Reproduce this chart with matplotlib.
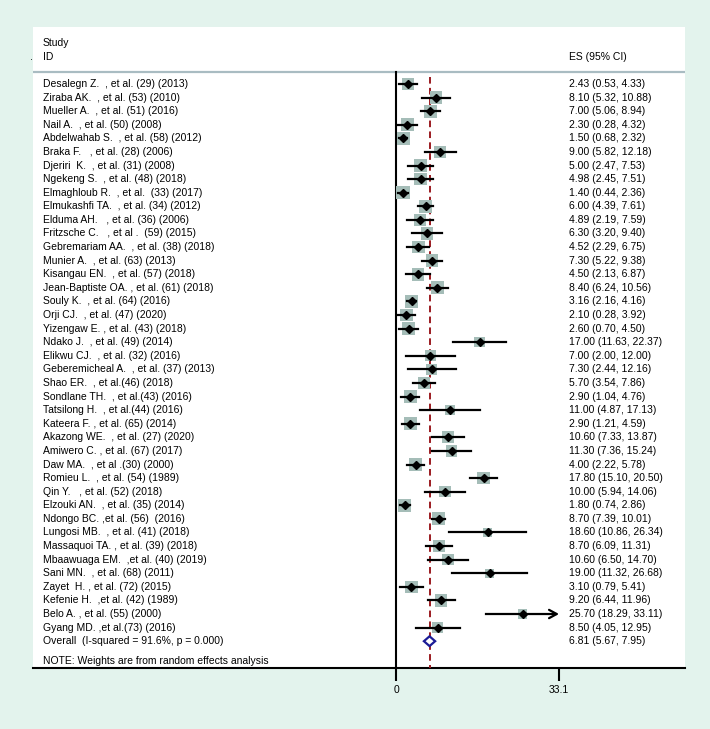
import numpy as np
import matplotlib
matplotlib.use("Agg")
import matplotlib.pyplot as plt
from matplotlib.patches import Rectangle, Polygon

plt.rcParams['font.family'] = ['Liberation Sans', 'DejaVu Sans']

studies = [
    "Desalegn Z.  , et al. (29) (2013)",
    "Ziraba AK.  , et al. (53) (2010)",
    "Mueller A.  , et al. (51) (2016)",
    "Nail A.  , et al. (50) (2008)",
    "Abdelwahab S.  , et al. (58) (2012)",
    "Braka F.   , et al. (28) (2006)",
    "Djeriri  K.  , et al. (31) (2008)",
    "Ngekeng S.  , et al. (48) (2018)",
    "Elmaghloub R.  , et al.  (33) (2017)",
    "Elmukashfi TA.  , et al. (34) (2012)",
    "Elduma AH.   , et al. (36) (2006)",
    "Fritzsche C.   , et al .  (59) (2015)",
    "Gebremariam AA.  , et al. (38) (2018)",
    "Munier A.  , et al. (63) (2013)",
    "Kisangau EN.  , et al. (57) (2018)",
    "Jean-Baptiste OA. , et al. (61) (2018)",
    "Souly K.  , et al. (64) (2016)",
    "Orji CJ.  , et al. (47) (2020)",
    "Yizengaw E. , et al. (43) (2018)",
    "Ndako J.  , et al. (49) (2014)",
    "Elikwu CJ.  , et al. (32) (2016)",
    "Geberemicheal A.  , et al. (37) (2013)",
    "Shao ER.  , et al.(46) (2018)",
    "Sondlane TH.  , et al.(43) (2016)",
    "Tatsilong H.  , et al.(44) (2016)",
    "Kateera F. , et al. (65) (2014)",
    "Akazong WE.  , et al. (27) (2020)",
    "Amiwero C. , et al. (67) (2017)",
    "Daw MA.  , et al .(30) (2000)",
    "Romieu L.  , et al. (54) (1989)",
    "Qin Y.   , et al. (52) (2018)",
    "Elzouki AN.  , et al. (35) (2014)",
    "Ndongo BC. ,et al. (56)  (2016)",
    "Lungosi MB.  , et al. (41) (2018)",
    "Massaquoi TA. , et al. (39) (2018)",
    "Mbaawuaga EM.  ,et al. (40) (2019)",
    "Sani MN.  , et al. (68) (2011)",
    "Zayet  H. , et al. (72) (2015)",
    "Kefenie H.  ,et al. (42) (1989)",
    "Belo A. , et al. (55) (2000)",
    "Gyang MD. ,et al.(73) (2016)",
]
es = [2.43, 8.10, 7.00, 2.30, 1.50, 9.00, 5.00, 4.98, 1.40, 6.00, 4.89, 6.30, 4.52, 7.30,
      4.50, 8.40, 3.16, 2.10, 2.60, 17.00, 7.00, 7.30, 5.70, 2.90, 11.00, 2.90, 10.60,
      11.30, 4.00, 17.80, 10.00, 1.80, 8.70, 18.60, 8.70, 10.60, 19.00, 3.10, 9.20, 25.70, 8.50]
lo = [0.53, 5.32, 5.06, 0.28, 0.68, 5.82, 2.47, 2.45, 0.44, 4.39, 2.19, 3.20, 2.29, 5.22,
      2.13, 6.24, 2.16, 0.28, 0.70, 11.63, 2.00, 2.44, 3.54, 1.04, 4.87, 1.21, 7.33,
      7.36, 2.22, 15.10, 5.94, 0.74, 7.39, 10.86, 6.09, 6.50, 11.32, 0.79, 6.44, 18.29, 4.05]
hi = [4.33, 10.88, 8.94, 4.32, 2.32, 12.18, 7.53, 7.51, 2.36, 7.61, 7.59, 9.40, 6.75, 9.38,
      6.87, 10.56, 4.16, 3.92, 4.50, 22.37, 12.00, 12.16, 7.86, 4.76, 17.13, 4.59, 13.87,
      15.24, 5.78, 20.50, 14.06, 2.86, 10.01, 26.34, 11.31, 14.70, 26.68, 5.41, 11.96, 33.11, 12.95]
# relative weights
weights = [74, 69, 74, 74, 79, 66, 71, 71, 79, 76, 69, 67, 73, 73, 72, 73, 78, 75, 74, 50,
           53, 54, 73, 75, 45, 76, 65, 61, 75, 69, 60, 78, 77, 36, 70, 59, 36, 72, 69, 37, 57]
overall_label = "Overall  (I-squared = 91.6%, p = 0.000)"
overall = [6.81, 5.67, 7.95]
axis_max = 33.1
xticks = [0, 33.1]
xticklabels = ["0", "33.1"]

W, H = 710, 729
fig = plt.figure(figsize=(W / 100, H / 100), dpi=100, facecolor="#e3f3ed")

# panel in pixels
pl, pr, pt, pb = 33, 685, 27, 668
ax = fig.add_axes([pl / W, 1 - pb / H, (pr - pl) / W, (pb - pt) / H])
ax.set_facecolor("white")

x0px, x1px = 396, 559
ppu = (x1px - x0px) / axis_max
ax.set_xlim((pl - x0px) / ppu, (pr - x0px) / ppu)
row0, rowh = 84.0, 13.59
ax.set_ylim((pb - row0) / rowh, (pt - row0) / rowh)

for s in ["top", "right", "left"]:
    ax.spines[s].set_visible(False)
ax.spines["bottom"].set_linewidth(1.5)
ax.spines["bottom"].set_color("black")
ax.set_yticks([])
ax.set_xticks(xticks)
ax.set_xticklabels(xticklabels, fontsize=7.5)
ax.tick_params(axis="x", length=9, width=1.5, pad=3.5, colors="black")

n = len(studies)
hdr_y = (72 - row0) / rowh
ybot = (pb - row0) / rowh

# header line
ax.plot([(pl - x0px) / ppu, (pr - x0px) / ppu], [hdr_y, hdr_y], color="#a9bcc2", lw=1.6,
        solid_capstyle="butt", clip_on=False, zorder=2)
# vertical line at 0
ax.plot([0, 0], [hdr_y, ybot], color="black", lw=1.5, zorder=3)
# dashed overall line
ax.plot([overall[0], overall[0]], [(77 - row0) / rowh, ybot], color="#9b1b20", lw=1.4,
        dashes=(3.4, 2.2), zorder=3)

fs = 7.5
trans = ax.get_yaxis_transform()  # x axes, y data
lab_x = (43 - pl) / (pr - pl)
es_x = (569 - pl) / (pr - pl)

for i in range(n):
    side = 12.8 * np.sqrt(weights[i] / 74.0)
    wdat = side / ppu
    hdat = side / rowh
    ax.add_patch(Rectangle((es[i] - wdat / 2, i - hdat / 2), wdat, hdat,
                           facecolor="#a5bdb8", edgecolor="none", zorder=4))
    if hi[i] > axis_max:
        ax.plot([lo[i], es[i]], [i, i], color="black", lw=1.6, zorder=5)
        ax.annotate("", xy=(axis_max, i), xytext=(es[i], i),
                    arrowprops=dict(arrowstyle="->,head_length=0.55,head_width=0.3",
                                    color="black", lw=1.6, shrinkA=0, shrinkB=0), zorder=5)
    else:
        ax.plot([lo[i], hi[i]], [i, i], color="black", lw=1.6, zorder=5)
    ax.plot(es[i], i, marker="D", color="black", markersize=4.5, zorder=6)
    ax.text(lab_x, i, studies[i], transform=trans, fontsize=fs, va="center", ha="left")
    ax.text(es_x, i, f"{es[i]:.2f} ({lo[i]:.2f}, {hi[i]:.2f})", transform=trans,
            fontsize=fs, va="center", ha="left")

# overall diamond
yo = n
dh = 0.36
diamond = Polygon([[overall[1], yo], [overall[0], yo - dh], [overall[2], yo], [overall[0], yo + dh]],
                  closed=True, facecolor="white", edgecolor="#1c1c96", lw=1.6, zorder=6)
ax.add_patch(diamond)
ax.text(lab_x, yo, overall_label, transform=trans, fontsize=fs, va="center", ha="left")
ax.text(es_x, yo, f"{overall[0]:.2f} ({overall[1]:.2f}, {overall[2]:.2f})", transform=trans,
        fontsize=fs, va="center", ha="left")

# headers
ax.text(lab_x, (43 - row0) / rowh, "Study", transform=trans, fontsize=fs, va="center", ha="left")
ax.text(lab_x, (57 - row0) / rowh, "ID", transform=trans, fontsize=fs, va="center", ha="left")
ax.text(es_x, (57 - row0) / rowh, "ES (95% CI)", transform=trans, fontsize=fs, va="center", ha="left")
ax.text((30 - pl) / (pr - pl), (57 - row0) / rowh, ".", transform=trans, fontsize=fs,
        va="center", ha="left", clip_on=False)
ax.text(lab_x, (661 - row0) / rowh, "NOTE: Weights are from random effects analysis",
        transform=trans, fontsize=fs, va="center", ha="left")

fig.savefig("out.png", dpi=100, facecolor=fig.get_facecolor())
